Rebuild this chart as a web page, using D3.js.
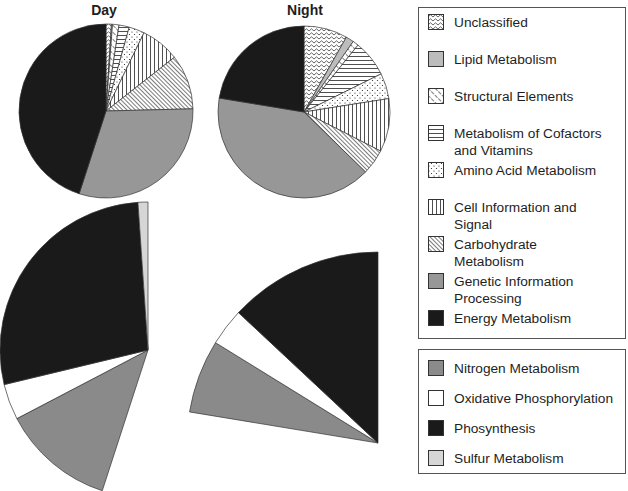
<!DOCTYPE html>
<meta charset="utf-8"/>
<title>Day / Night functional categories</title>
<script src="https://d3js.org/d3.v7.min.js"></script>
<style>
  body { margin: 0; background: #fff; }
  text { font-family: 'Liberation Sans', Arial, sans-serif; fill: #1e1e1e; }
  .title { font-weight: bold; font-size: 14px; text-anchor: middle; }
  .legend text { font-size: 13.7px; }
</style>
<svg width=628 height=491></svg>
<script>
  // functional categories, clockwise from 12 o'clock
  const categories = ["Unclassified", "Lipid Metabolism", "Structural Elements",
    "Metabolism of Cofactors and Vitamins", "Amino Acid Metabolism", "Cell Information and Signal",
    "Carbohydrate Metabolism", "Genetic Information Processing", "Energy Metabolism"];
  const categoryLines = [["Unclassified"], ["Lipid Metabolism"], ["Structural Elements"],
    ["Metabolism of Cofactors", "and Vitamins"], ["Amino Acid Metabolism"], ["Cell Information and", "Signal"],
    ["Carbohydrate", "Metabolism"], ["Genetic Information", "Processing"], ["Energy Metabolism"]];
  const dayValues = [1.0, 0.2, 1.2, 1.9, 2.9, 7.2, 10.2, 30.4, 45.0];
  const nightValues = [8.2, 1.5, 1.1, 6.9, 4.8, 10.0, 4.8, 40.3, 22.4];

  // breakdown of energy metabolism (% of energy slice)
  const energyCategories = ["Nitrogen Metabolism", "Oxidative Phosphorylation", "Phosynthesis", "Sulfur Metabolism"];
  const dayEnergy = [27.4, 8.7, 61.5, 2.4];
  const nightEnergy = [27.7, 14.1, 58.2, 0];

  const fills = ["url(#p-zig)", "#bcbcbc", "url(#p-struct)", "url(#p-hor)", "url(#p-dots)",
    "url(#p-vert)", "url(#p-carb)", "#979797", "#1a1a1a"];
  const energyFills = ["#8a8a8a", "#ffffff", "#1a1a1a", "#d6d6d6"];

  const svg = d3.select("svg");
  const defs = svg.append("defs");
  const ink = "#222";

  function pattern(id, w, h, draw, transform) {
    const p = defs.append("pattern").attr("id", id)
      .attr("patternUnits", "userSpaceOnUse").attr("width", w).attr("height", h);
    if (transform) p.attr("patternTransform", transform);
    p.append("rect").attr("width", w).attr("height", h).attr("fill", "#fff");
    draw(p);
  }
  pattern("p-zig", 5, 4, p => p.append("path").attr("d", "M0,3 L2.5,0.8 L5,3")
    .attr("fill", "none").attr("stroke", ink).attr("stroke-width", 0.7));
  pattern("p-struct", 5, 5, p => p.append("line").attr("x1", 0.5).attr("x2", 0.5).attr("y1", 0).attr("y2", 5)
    .attr("stroke", ink).attr("stroke-width", 0.6).attr("stroke-dasharray", "3,1"), "rotate(-45)");
  pattern("p-hor", 4, 4, p => p.append("line").attr("x1", 0).attr("x2", 4).attr("y1", 0.5).attr("y2", 0.5)
    .attr("stroke", ink).attr("stroke-width", 0.8));
  pattern("p-dots", 5, 5, p => {
    p.append("circle").attr("cx", 1).attr("cy", 1).attr("r", 0.6).attr("fill", ink);
    p.append("circle").attr("cx", 3.5).attr("cy", 3.5).attr("r", 0.6).attr("fill", ink);
  });
  pattern("p-vert", 4, 4, p => p.append("line").attr("x1", 0.5).attr("x2", 0.5).attr("y1", 0).attr("y2", 4)
    .attr("stroke", ink).attr("stroke-width", 0.8));
  pattern("p-carb", 3, 3, p => p.append("line").attr("x1", 0.5).attr("x2", 0.5).attr("y1", 0).attr("y2", 3)
    .attr("stroke", ink).attr("stroke-width", 0.6), "rotate(-45)");

  const pie = d3.pie().sort(null).value(d => d);
  const stroke = "#333";

  function drawPie(values, cx, cy, r) {
    const arcs = pie(values);
    const arc = d3.arc().innerRadius(0).outerRadius(r);
    svg.append("g").attr("transform", `translate(${cx},${cy})`)
      .selectAll("path").data(arcs).join("path")
      .attr("d", arc).attr("fill", (d, i) => fills[i])
      .attr("stroke", stroke).attr("stroke-width", 0.7);
    return arcs;
  }

  function drawEnergy(values, slice, cx, cy, r) {
    const sub = d3.pie().sort(null).value(d => d)
      .startAngle(slice.startAngle).endAngle(slice.endAngle)(values);
    const arc = d3.arc().innerRadius(0).outerRadius(r);
    svg.append("g").attr("transform", `translate(${cx},${cy})`)
      .selectAll("path").data(sub.filter(d => d.value > 0)).join("path")
      .attr("d", arc).attr("fill", d => energyFills[d.index])
      .attr("stroke", stroke).attr("stroke-width", 0.7);
  }

  const dayArcs = drawPie(dayValues, 106, 111, 87);
  const nightArcs = drawPie(nightValues, 304, 112, 86);
  drawEnergy(dayEnergy, dayArcs[8], 148, 350, 148);
  drawEnergy(nightEnergy, nightArcs[8], 378, 443, 191);

  svg.append("text").attr("class", "title").attr("x", 104).attr("y", 15).text("Day");
  svg.append("text").attr("class", "title").attr("x", 305).attr("y", 15).text("Night");

  // legends
  function legend(y0, h, step, firstY, labels, fillList) {
    const g = svg.append("g").attr("class", "legend");
    g.append("rect").attr("x", 418.5).attr("y", y0 + 0.5).attr("width", 207).attr("height", h)
      .attr("fill", "none").attr("stroke", "#555").attr("stroke-width", 1);
    const item = g.selectAll("g.item").data(labels).join("g").attr("class", "item")
      .attr("transform", (d, i) => `translate(428,${firstY + i * step})`);
    item.append("rect").attr("x", 0.5).attr("y", -7.5).attr("width", 15).attr("height", 15)
      .attr("fill", (d, i) => fillList[i]).attr("stroke", "#333").attr("stroke-width", 1);
    item.append("text").attr("x", 26)
      .selectAll("tspan").data(d => Array.isArray(d) ? d : [d]).join("tspan")
      .attr("x", 26).attr("y", (d, i) => 5 + i * 16.5).text(d => d);
  }
  legend(7, 331, 37, 22, categoryLines, fills);
  legend(349, 124, 30, 368, energyCategories, energyFills);
</script>
